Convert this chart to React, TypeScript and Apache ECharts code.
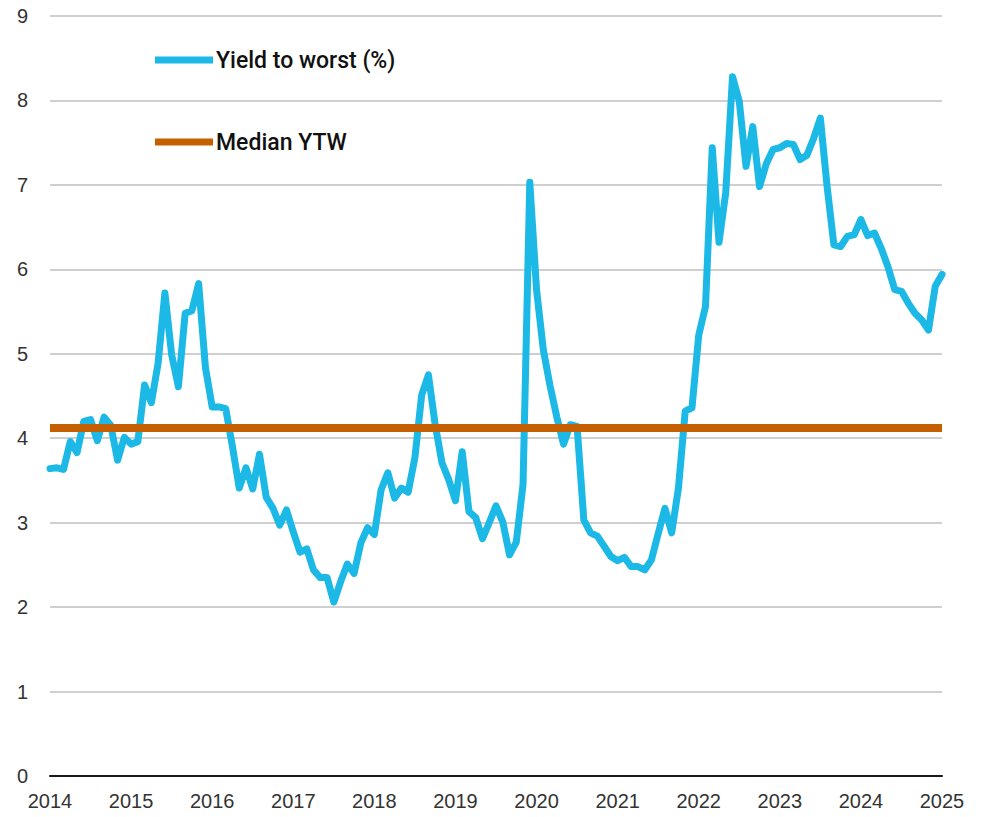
import React, { useEffect, useRef } from "react";
import * as echarts from "echarts";

const YEARS = [2014, 2015, 2016, 2017, 2018, 2019, 2020, 2021, 2022, 2023, 2024, 2025];

const YTW_2014 = [3.64, 3.65, 3.63, 3.96, 3.83, 4.2, 4.22, 3.97, 4.25, 4.15, 3.74, 4.01];
const YTW_2015 = [3.93, 3.96, 4.63, 4.42, 4.89, 5.72, 4.99, 4.61, 5.48, 5.51, 5.83, 4.84];
const YTW_2016 = [4.37, 4.37, 4.35, 3.9, 3.41, 3.65, 3.4, 3.81, 3.3, 3.17, 2.97, 3.15];
const YTW_2017 = [2.89, 2.65, 2.69, 2.44, 2.35, 2.35, 2.06, 2.3, 2.51, 2.4, 2.76, 2.94];
const YTW_2018 = [2.86, 3.39, 3.59, 3.29, 3.41, 3.36, 3.77, 4.51, 4.75, 4.16, 3.71, 3.51];
const YTW_2019 = [3.26, 3.84, 3.13, 3.06, 2.81, 3.0, 3.2, 3.01, 2.62, 2.77, 3.45, 7.03];
const YTW_2020 = [5.76, 5.05, 4.62, 4.25, 3.93, 4.16, 4.14, 3.03, 2.88, 2.84, 2.72, 2.6];
const YTW_2021 = [2.55, 2.59, 2.48, 2.48, 2.44, 2.56, 2.87, 3.17, 2.88, 3.41, 4.32, 4.36];
const YTW_2022 = [5.22, 5.56, 7.44, 6.32, 6.91, 8.28, 7.99, 7.22, 7.69, 6.98, 7.25, 7.42];
const YTW_2023 = [7.44, 7.49, 7.48, 7.3, 7.35, 7.55, 7.79, 6.98, 6.29, 6.27, 6.39, 6.41];
const YTW_2024 = [6.59, 6.4, 6.43, 6.25, 6.03, 5.76, 5.74, 5.6, 5.48, 5.4, 5.28, 5.8];
const YTW_2025 = [5.94];

const YIELD_TO_WORST = [
  ...YTW_2014, ...YTW_2015, ...YTW_2016, ...YTW_2017, ...YTW_2018, ...YTW_2019,
  ...YTW_2020, ...YTW_2021, ...YTW_2022, ...YTW_2023, ...YTW_2024, ...YTW_2025,
];

const MEDIAN_YTW = 4.12;

const MONTHS: string[] = [];
YEARS.forEach((y) => {
  for (let m = 1; m <= 12; m++) {
    if (MONTHS.length < YIELD_TO_WORST.length) MONTHS.push(`${y}-${String(m).padStart(2, "0")}`);
  }
});

const BLUE = "#1cb8e6";
const ORANGE = "#c46000";

export default function App() {
  const ref = useRef<HTMLDivElement>(null);
  useEffect(() => {
    if (!ref.current) return;
    const chart = echarts.init(ref.current, undefined, { renderer: "svg" });
    chart.setOption({
      animation: false,
      backgroundColor: "#ffffff",
      grid: { left: 50, right: 41, top: 16, bottom: 41, containLabel: false },
      legend: {
        orient: "vertical",
        left: 155,
        top: 48,
        padding: 0,
        itemWidth: 58,
        itemHeight: 7,
        itemGap: 58,
        icon: "rect",
        textStyle: {
          fontFamily: "Roboto, 'Liberation Sans', sans-serif",
          fontSize: 23,
          lineHeight: 24,
          fontWeight: 500,
          color: "#111111",
          padding: [0, 0, 0, -2],
        },
        data: [
          { name: "Yield to worst (%)", itemStyle: { color: BLUE } },
          { name: "Median YTW", itemStyle: { color: ORANGE } },
        ],
      },
      xAxis: {
        type: "category",
        data: MONTHS,
        boundaryGap: false,
        axisLine: { show: true, lineStyle: { color: "#1a1a1a", width: 2 } },
        axisTick: { show: false },
        splitLine: { show: false },
        axisLabel: {
          interval: 11,
          margin: 15,
          formatter: (v: string) => v.slice(0, 4),
          fontFamily: "'Liberation Sans Narrow', 'Arial Narrow', 'Liberation Sans', sans-serif",
          fontSize: 20,
          color: "#333333",
        },
      },
      yAxis: {
        type: "value",
        min: 0,
        max: 9,
        interval: 1,
        axisLine: { show: false },
        axisTick: { show: false },
        splitLine: { show: true, lineStyle: { color: "#cfcfcf", width: 2 } },
        axisLabel: {
          margin: 22,
          fontFamily: "'Liberation Sans Narrow', 'Arial Narrow', 'Liberation Sans', sans-serif",
          fontSize: 20,
          color: "#333333",
        },
      },
      series: [
        {
          name: "Yield to worst (%)",
          type: "line",
          data: YIELD_TO_WORST,
          showSymbol: false,
          symbol: "none",
          lineStyle: { color: BLUE, width: 7, cap: "round", join: "round" },
          itemStyle: { color: BLUE },
          z: 2,
        },
        {
          name: "Median YTW",
          type: "line",
          data: [],
          symbol: "none",
          itemStyle: { color: ORANGE },
          lineStyle: { color: ORANGE, width: 8 },
          z: 3,
          markLine: {
            silent: true,
            symbol: ["none", "none"],
            label: { show: false },
            lineStyle: { color: ORANGE, width: 8, type: "solid" },
            emphasis: { disabled: true },
            z: 5,
            data: [{ yAxis: MEDIAN_YTW }],
          },
        },
      ],
    });
    return () => chart.dispose();
  }, []);
  return (
    <div
      ref={ref}
      style={{ position: "fixed", left: 0, top: 0, width: 983, height: 817, background: "#fff" }}
    />
  );
}
